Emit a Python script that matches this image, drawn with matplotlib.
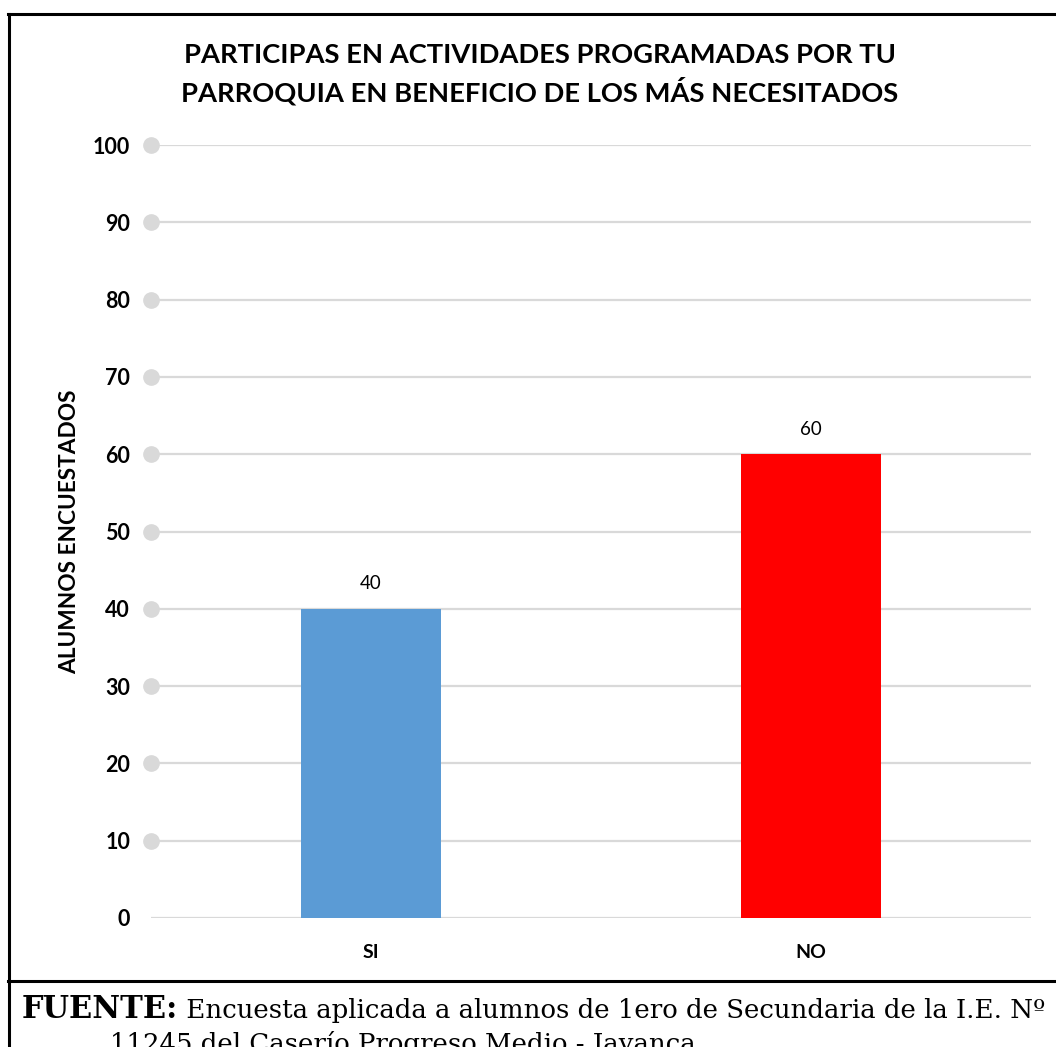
import matplotlib
matplotlib.use("Agg")
import matplotlib.pyplot as plt
from matplotlib.lines import Line2D

categories = ["SI", "NO"]
values = [40, 60]
bar_colors = ["#5B9BD5", "#FF0000"]
y_ticks = [0, 10, 20, 30, 40, 50, 60, 70, 80, 90, 100]

title = "PARTICIPAS EN ACTIVIDADES PROGRAMADAS POR TU\nPARROQUIA EN BENEFICIO DE LOS MÁS NECESITADOS"
y_label = "ALUMNOS ENCUESTADOS"
source_bold = "FUENTE:"
source_rest = " Encuesta aplicada a alumnos de 1ero de Secundaria de la I.E. Nº"
source_line2 = "11245 del Caserío Progreso Medio - Jayanca"

W, H = 1056, 1047
fig = plt.figure(figsize=(W / 100, H / 100), dpi=100)
plt.rcParams["font.family"] = ["Lato", "DejaVu Sans"]

ax = fig.add_axes([151 / W, 1 - 918 / H, 880 / W, 773 / H])
x = list(range(len(categories)))
bars = ax.bar(x, values, width=0.316, color=bar_colors, zorder=3)

grid_c = "#d9d9d9"
for t in y_ticks:
    ax.axhline(t, color=grid_c, lw=1.6, zorder=1)
# grey dots at the tick positions
ax.plot([-0.5] * (len(y_ticks) - 1), y_ticks[1:], "o", color=grid_c,
        markersize=11, clip_on=False, zorder=2)

ax.set_xlim(-0.5, 1.5)
ax.set_ylim(0, 100)
ax.set_yticks(y_ticks)
ax.set_yticklabels([str(t) for t in y_ticks], fontsize=15.5, fontweight="bold")
ax.set_xticks(x)
ax.set_xticklabels(categories, fontsize=14, fontweight="bold")
ax.tick_params(axis="y", length=0, pad=15)
ax.tick_params(axis="x", length=0, pad=19)
for s in ax.spines.values():
    s.set_visible(False)

for b, v in zip(bars, values):
    ax.annotate(str(v), (b.get_x() + b.get_width() / 2, v), xytext=(0, 12),
                textcoords="offset points", ha="center", va="bottom", fontsize=13.5)

ax.set_ylabel(y_label, fontsize=16.3, fontweight="bold", labelpad=9)

fig.text(540 / W, 1 - 74 / H, title, ha="center", va="center", fontsize=19.7,
         fontweight="bold", linespacing=1.42)

# frame lines
lw = 2.2
fig.add_artist(Line2D([8 / W, 1], [1 - 14 / H, 1 - 14 / H], color="black", lw=lw))
fig.add_artist(Line2D([9 / W, 9 / W], [0, 1 - 14 / H], color="black", lw=lw))
fig.add_artist(Line2D([8 / W, 1], [1 - 981 / H, 1 - 981 / H], color="black", lw=lw))

serif = ["DejaVu Serif"]
t1 = fig.text(22 / W, 1 - 1018 / H, source_bold, ha="left", va="baseline",
              fontsize=22, fontweight="bold", family=serif)
fig.canvas.draw()
bb = t1.get_window_extent()
fig.text(bb.x1 / W, 1 - 1018 / H, source_rest, ha="left", va="baseline",
         fontsize=18.7, family=serif)
fig.text(110 / W, 1 - 1052 / H, source_line2, ha="left", va="baseline",
         fontsize=18.7, family=serif)

fig.savefig("out.png", dpi=100)
